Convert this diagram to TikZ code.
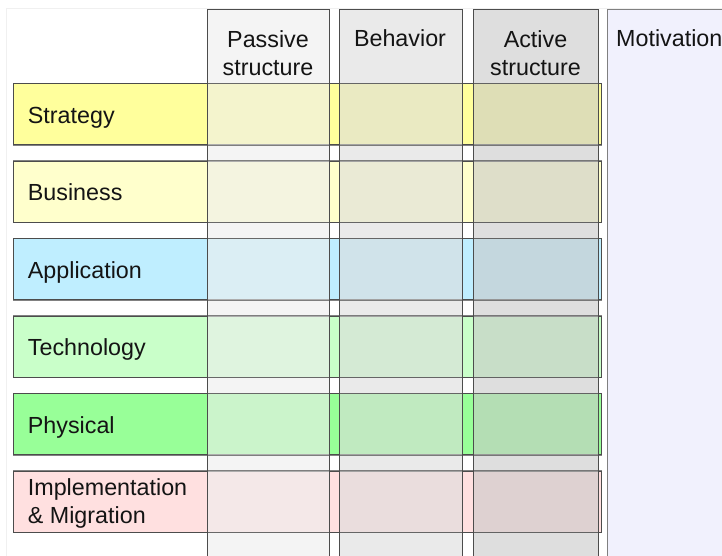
\documentclass[tikz,border=0pt]{standalone}
\usepackage{fontspec}
\setmainfont{Liberation Sans}
\definecolor{cstrat}{HTML}{FFFF9C}
\definecolor{cbus}{HTML}{FFFFCC}
\definecolor{capp}{HTML}{BFEEFF}
\definecolor{ctech}{HTML}{C9FFC9}
\definecolor{cphys}{HTML}{98FF98}
\definecolor{cimpl}{HTML}{FFE0E0}
\definecolor{cmot}{HTML}{F1F1FD}
\definecolor{cpas}{HTML}{EEEEEE}
\definecolor{cbeh}{HTML}{DCDCDC}
\definecolor{cact}{HTML}{C8C8C8}
\begin{document}
\begin{tikzpicture}[x=1pt,y=-1pt,
  rowbox/.style={draw=black!70, line width=0.9pt, anchor=north west, inner sep=0pt,
    minimum width=587.7pt, minimum height=61pt},
  rowline/.style={draw=black!70, draw opacity=0.7, line width=0.9pt},
  colbox/.style={draw=black!70, line width=0.9pt, anchor=north west, inner sep=0pt,
    minimum width=122.6pt, minimum height=600pt, fill opacity=0.6, draw opacity=1},
  lbl/.style={inner sep=0pt, font=\fontsize{23.3}{28}\selectfont, text=black!92},
]
\useasboundingbox (0,0) rectangle (722,555);
\clip (0,0) rectangle (722,555);
\fill[white] (0,0) rectangle (722,555);
\node[draw=black!6, fill=white, anchor=north west, inner sep=0pt, minimum width=760pt, minimum height=600pt] (frame) at (6,8) {};
% motivation
\node[draw=black!50, line width=0.9pt, fill=cmot, anchor=north west, inner sep=0pt,
  minimum width=200pt, minimum height=600pt] (mot) at (607.3,9.3) {};
% rows
\node[rowbox, fill=cstrat] (strategy) at (13.3,83.3) {};
\node[rowbox, fill=cbus] (business) at (13.3,160.8) {};
\node[rowbox, fill=capp] (application) at (13.3,238.3) {};
\node[rowbox, fill=ctech] (technology) at (13.3,315.5) {};
\node[rowbox, fill=cphys] (physical) at (13.3,393.3) {};
\node[rowbox, fill=cimpl] (impl) at (13.3,470.7) {};
% columns
\node[colbox, fill=cpas] (passive) at (206.7,9.3) {};
\node[colbox, fill=cbeh] (behavior) at (339.3,9.3) {};
\node[colbox, fill=cact, minimum width=124.4pt] (active) at (473.3,9.3) {};
% row outlines seen through the columns
\foreach \r in {strategy,business,application,technology,physical,impl}
  \draw[rowline] (\r.north west) rectangle (\r.south east);
% headers
\node[lbl, anchor=north, align=center] (hpas) at (268,30) {Passive\\structure};
\node[lbl, anchor=base] (hbeh) at (400,46.7) {Behavior};
\node[lbl, anchor=north, align=center] (hact) at (535.5,30) {Active\\structure};
\node[lbl, anchor=base west] (hmot) at (616,46.7) {Motivation};
% row labels
\node[lbl, anchor=base west] (lstrat) at (27.7,123.3) {Strategy};
\node[lbl, anchor=base west] (lbus) at (27.7,200.5) {Business};
\node[lbl, anchor=base west] (lapp) at (27.7,278) {Application};
\node[lbl, anchor=base west] (ltech) at (27.7,355.8) {Technology};
\node[lbl, anchor=base west] (lphys) at (27.7,433.3) {Physical};
\node[lbl, anchor=north west, align=left] (limpl) at (27.7,478.3) {Implementation\\\& Migration};
\end{tikzpicture}
\end{document}
